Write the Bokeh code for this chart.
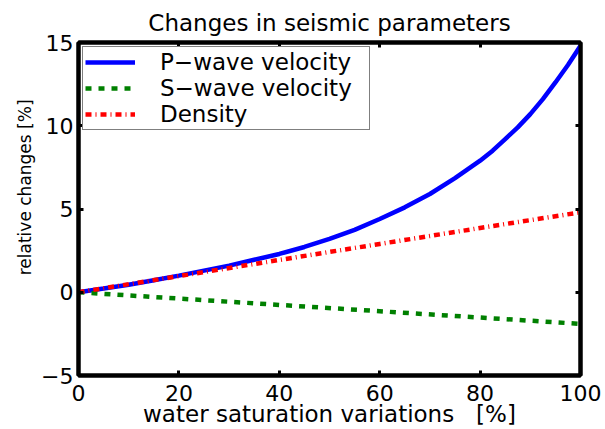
from bokeh.plotting import figure
from bokeh.models import Range1d, LinearAxis, FixedTicker, Legend, LegendItem
from bokeh.embed import file_html
from bokeh.resources import INLINE

# ---- data ----
x_p = [0, 5, 10, 15, 20, 25, 30, 35, 40, 45, 50, 55, 60, 65, 70, 75, 80, 82.5, 85, 87.5,
       90, 92.5, 95, 97.5, 100]
p_wave = [0, 0.22, 0.45, 0.72, 1.0, 1.3, 1.6, 1.95, 2.3, 2.72, 3.2, 3.75, 4.4, 5.1, 5.9,
          6.85, 7.9, 8.5, 9.2, 9.9, 10.7, 11.6, 12.6, 13.65, 14.8]
x_lin = [0, 20, 40, 60, 80, 100]
s_wave = [0, -0.38, -0.76, -1.14, -1.52, -1.9]
density = [0, 0.97, 1.94, 2.9, 3.86, 4.8]

x_ticks = [0, 20, 40, 60, 80, 100]
y_ticks = [-5, 0, 5, 10, 15]
labels = ["P\u2212wave velocity", "S\u2212wave velocity", "Density"]
title = "Changes in seismic parameters"
x_label = "water saturation variations\u00a0\u00a0 [%]"
y_label = "\u00a0" * 8 + "relative changes [%]"

FONT = "DejaVu Sans"

p = figure(width=605, height=429, x_range=Range1d(0, 100), y_range=Range1d(-5, 15),
           output_backend="svg", toolbar_location=None,
           min_border_left=78, min_border_right=25, min_border_top=42, min_border_bottom=52)

p.title.text = title
p.title.text_font = FONT
p.title.text_font_size = "23px"
p.title.text_font_style = "normal"
p.title.align = "center"
p.title.text_color = "black"
p.title.standoff = 13

p.grid.visible = False
p.outline_line_color = "black"
p.outline_line_width = 4
p.outline_line_alpha = 1.0
p.background_fill_color = "white"
p.border_fill_color = "white"


def style_axis(ax, ticks, show_labels=True):
    ax.ticker = FixedTicker(ticks=ticks)
    ax.major_tick_in = 5
    ax.major_tick_out = 0
    ax.minor_tick_in = 0
    ax.minor_tick_out = 0
    ax.major_tick_line_width = 3
    ax.major_tick_line_color = "black"
    ax.axis_line_width = 4
    ax.axis_line_color = "black"
    ax.major_label_text_font = FONT
    if show_labels:
        ax.major_label_text_font_size = "22px"
        ax.major_label_text_color = "black"
    else:
        ax.major_label_text_font_size = "1px"
        ax.major_label_text_color = None
        ax.major_label_standoff = 0


style_axis(p.xaxis[0], x_ticks)
style_axis(p.yaxis[0], y_ticks)
p.xaxis[0].major_label_standoff = 9
p.yaxis[0].major_label_standoff = 5
p.yaxis[0].major_label_overrides = {-5: "\u22125"}
p.xaxis[0].axis_label = x_label
p.yaxis[0].axis_label = y_label
for ax, size in ((p.xaxis[0], "23px"), (p.yaxis[0], "17px")):
    ax.axis_label_text_font = FONT
    ax.axis_label_text_font_size = size
    ax.axis_label_text_font_style = "normal"
    ax.axis_label_text_color = "black"
p.xaxis[0].axis_label_standoff = -3
p.yaxis[0].axis_label_standoff = 3

right = LinearAxis()
style_axis(right, y_ticks, show_labels=False)
p.add_layout(right, "right")
top = LinearAxis()
style_axis(top, x_ticks, show_labels=False)
p.add_layout(top, "above")

r_p = p.line(x_p, p_wave, line_color="#0000ff", line_width=4.5)
r_s = p.line(x_lin, s_wave, line_color="#008000", line_width=4.5, line_dash="6 7")
r_d = p.line(x_lin, density, line_color="#ff0000", line_width=4.5, line_dash="6 4 1 4")

legend = Legend(items=[LegendItem(label=labels[0], renderers=[r_p]),
                       LegendItem(label=labels[1], renderers=[r_s]),
                       LegendItem(label=labels[2], renderers=[r_d])],
                location="top_left")
legend.margin = 4
legend.padding = 2
legend.spacing = 0
legend.glyph_width = 50
legend.glyph_height = 22
legend.label_height = 22
legend.label_width = 207
legend.label_standoff = 25
legend.label_text_font = FONT
legend.label_text_font_size = "23px"
legend.label_text_color = "black"
legend.border_line_color = "black"
legend.border_line_width = 1
legend.background_fill_color = "white"
legend.background_fill_alpha = 1.0
p.add_layout(legend)

open("out.html", "w").write(file_html(p, INLINE))
